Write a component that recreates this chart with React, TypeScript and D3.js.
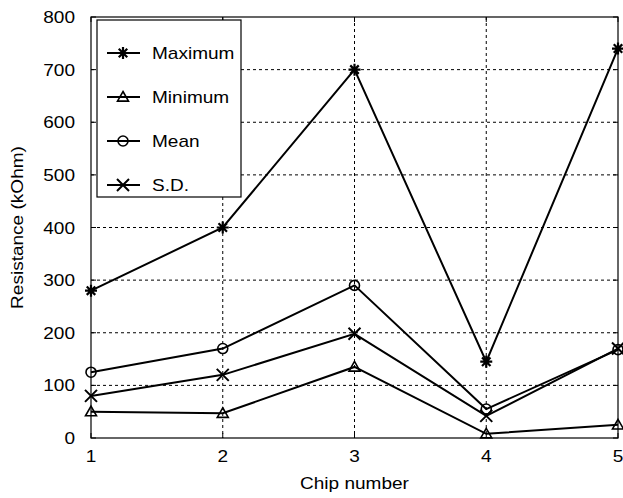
import * as d3 from 'd3';
import { useEffect, useRef } from 'react';

const chips = [1, 2, 3, 4, 5];
const maximum = [280, 400, 700, 145, 740];
const minimum = [50, 47, 135, 8, 25];
const mean = [125, 170, 290, 55, 168];
const sd = [80, 120, 198, 42, 170];
const yTicks = [0, 100, 200, 300, 400, 500, 600, 700, 800];

const W = 623;
const H = 498;
const FONT = '"Liberation Sans", Arial, sans-serif';
const FS = 17;
const STRETCH = 1.12; // the source text is a little wider than plain Arial

type Marker = 'star' | 'tri' | 'circle' | 'x';
type G = d3.Selection<SVGGElement, unknown, null, undefined>;

const seriesList: { name: string; values: number[]; marker: Marker }[] = [
  { name: 'Maximum', values: maximum, marker: 'star' },
  { name: 'Minimum', values: minimum, marker: 'tri' },
  { name: 'Mean', values: mean, marker: 'circle' },
  { name: 'S.D.', values: sd, marker: 'x' },
];

function label(g: G, tx: number, ty: number, text: string | number, anchor = 'start', rotate = 0) {
  g.append('text')
    .attr('transform', `translate(${tx},${ty}) rotate(${rotate}) scale(${STRETCH},1)`)
    .attr('text-anchor', anchor)
    .style('font-family', FONT)
    .style('font-size', `${FS}px`)
    .style('fill', '#000')
    .text(text);
}

function drawMarker(g: G, kind: Marker, cx: number, cy: number) {
  const r = 6;
  if (kind === 'star') {
    const p = d3.path();
    for (let i = 0; i < 4; i++) {
      const a = (i * Math.PI) / 4 + Math.PI / 2;
      p.moveTo(cx + r * Math.cos(a), cy + r * Math.sin(a));
      p.lineTo(cx - r * Math.cos(a), cy - r * Math.sin(a));
    }
    g.append('path').attr('d', p.toString()).attr('stroke', '#000').attr('stroke-width', 2.2).attr('fill', 'none');
  } else if (kind === 'x') {
    const p = d3.path();
    p.moveTo(cx - r, cy - r); p.lineTo(cx + r, cy + r);
    p.moveTo(cx - r, cy + r); p.lineTo(cx + r, cy - r);
    g.append('path').attr('d', p.toString()).attr('stroke', '#000').attr('stroke-width', 2).attr('fill', 'none');
  } else if (kind === 'circle') {
    g.append('circle').attr('cx', cx).attr('cy', cy).attr('r', 5).attr('stroke', '#000').attr('stroke-width', 1.6).attr('fill', 'none');
  } else {
    const s = 5.5;
    g.append('path')
      .attr('d', `M${cx},${cy - s}L${cx + s},${cy + s * 0.75}L${cx - s},${cy + s * 0.75}Z`)
      .attr('stroke', '#000').attr('stroke-width', 1.6).attr('fill', 'none');
  }
}

export default function App() {
  const ref = useRef<SVGSVGElement>(null);

  useEffect(() => {
    const svg = d3.select(ref.current);
    svg.selectAll('*').remove();

    const left = 91, right = 618, top = 17, bottom = 438;
    const x = d3.scaleLinear().domain([1, 5]).range([left, right]);
    const y = d3.scaleLinear().domain([0, 800]).range([bottom, top]);

    const g = svg.append('g') as unknown as G;

    // grid
    g.selectAll('line.hgrid')
      .data(yTicks.slice(1, -1))
      .enter()
      .append('line')
      .attr('x1', left).attr('x2', right)
      .attr('y1', (d) => y(d)).attr('y2', (d) => y(d))
      .attr('stroke', '#000').attr('stroke-width', 1).attr('stroke-dasharray', '3,3');
    g.selectAll('line.vgrid')
      .data(chips.slice(1, -1))
      .enter()
      .append('line')
      .attr('y1', top).attr('y2', bottom)
      .attr('x1', (d) => x(d)).attr('x2', (d) => x(d))
      .attr('stroke', '#000').attr('stroke-width', 1).attr('stroke-dasharray', '3,3');

    // frame
    g.append('rect')
      .attr('x', left).attr('y', top)
      .attr('width', right - left).attr('height', bottom - top)
      .attr('fill', 'none').attr('stroke', '#000').attr('stroke-width', 1.2);

    // ticks inward
    yTicks.forEach((t) => {
      g.append('line').attr('x1', left).attr('x2', left + 5).attr('y1', y(t)).attr('y2', y(t)).attr('stroke', '#000');
      g.append('line').attr('x1', right).attr('x2', right - 5).attr('y1', y(t)).attr('y2', y(t)).attr('stroke', '#000');
      label(g, left - 16, y(t) + 6, t, 'end');
    });
    chips.forEach((c) => {
      g.append('line').attr('x1', x(c)).attr('x2', x(c)).attr('y1', bottom).attr('y2', bottom - 5).attr('stroke', '#000');
      g.append('line').attr('x1', x(c)).attr('x2', x(c)).attr('y1', top).attr('y2', top + 5).attr('stroke', '#000');
      label(g, x(c), bottom + 24, c, 'middle');
    });

    // series
    const line = d3.line<number>()
      .x((_, i) => x(chips[i]))
      .y((d) => y(d));
    seriesList.forEach((s) => {
      g.append('path')
        .attr('d', line(s.values))
        .attr('fill', 'none').attr('stroke', '#000').attr('stroke-width', 2);
      s.values.forEach((v, i) => drawMarker(g, s.marker, x(chips[i]), y(v)));
    });

    // legend
    const lx = 97, ly = 20, lw = 144, lh = 177;
    g.append('rect')
      .attr('x', lx).attr('y', ly).attr('width', lw).attr('height', lh)
      .attr('fill', '#fff').attr('stroke', '#000').attr('stroke-width', 1.2);
    const legendY = d3.scalePoint<string>()
      .domain(seriesList.map((s) => s.name))
      .range([ly + 33, ly + 165]);
    seriesList.forEach((s) => {
      const yy = legendY(s.name) as number;
      g.append('line').attr('x1', lx + 10).attr('x2', lx + 43).attr('y1', yy).attr('y2', yy)
        .attr('stroke', '#000').attr('stroke-width', 2);
      drawMarker(g, s.marker, lx + 26, yy);
      label(g, lx + 55, yy + 6, s.name);
    });

    // axis titles
    label(g, (left + right) / 2, 489, 'Chip number', 'middle');
    label(g, 23, (top + bottom) / 2, 'Resistance (kOhm)', 'middle', -90);
  }, []);

  return (
    <svg
      ref={ref}
      width={W}
      height={H}
      style={{ position: 'absolute', left: 0, top: 0, background: '#fff' }}
    />
  );
}
